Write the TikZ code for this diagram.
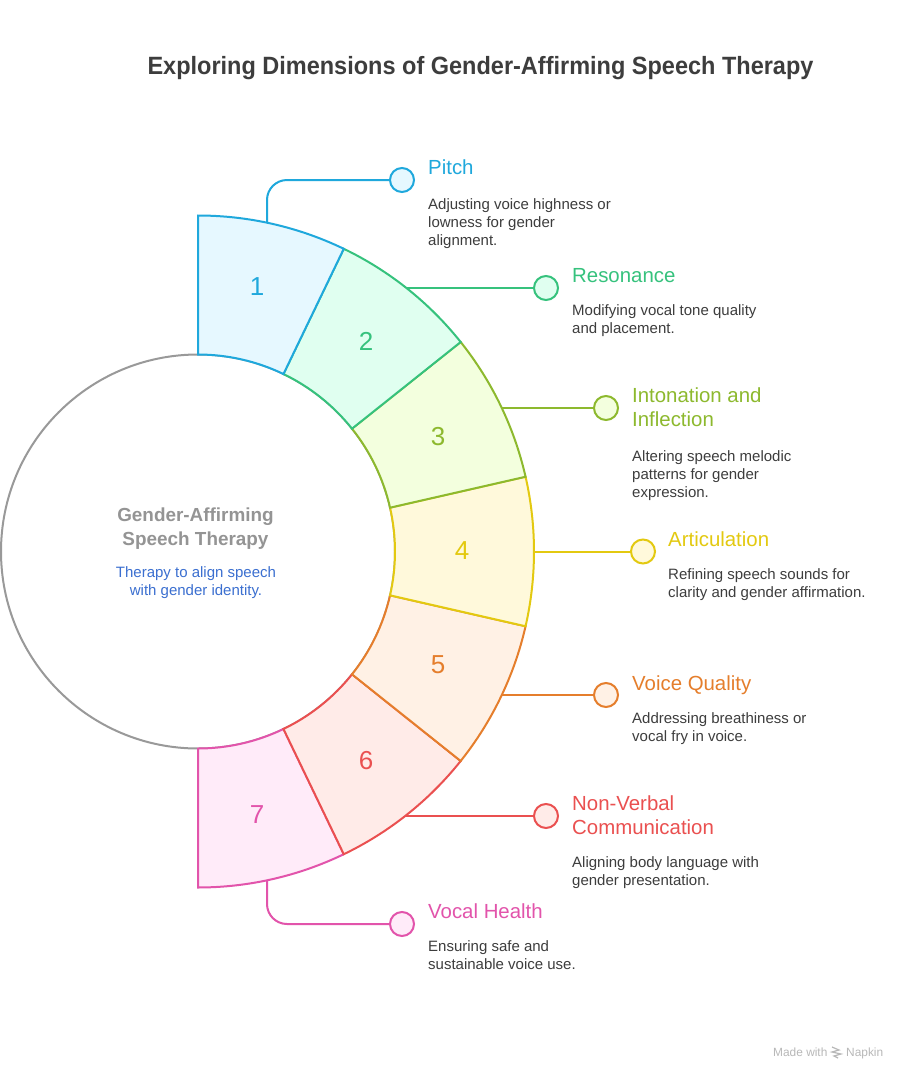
\documentclass[tikz,border=0pt]{standalone}
\usepackage{fontspec}
\setmainfont{Liberation Sans}
\newfontfamily\titlefont[FakeStretch=0.94]{Liberation Sans}
\definecolor{cA}{HTML}{1FA8DC}\definecolor{fA}{HTML}{E6F8FF}
\definecolor{cB}{HTML}{36C27D}\definecolor{fB}{HTML}{E0FFF0}
\definecolor{cC}{HTML}{8DB92E}\definecolor{fC}{HTML}{F3FFDE}
\definecolor{cD}{HTML}{E3C910}\definecolor{fD}{HTML}{FFF9DB}
\definecolor{cE}{HTML}{E57E2C}\definecolor{fE}{HTML}{FFF1E5}
\definecolor{cF}{HTML}{EA5050}\definecolor{fF}{HTML}{FFEBE8}
\definecolor{cG}{HTML}{E254AB}\definecolor{fG}{HTML}{FFEBF9}
\definecolor{txt}{HTML}{3D3D3D}
\tikzset{
  seg/.style={line width=2pt,line join=miter},
  conn/.style={line width=2pt},
  dot/.style={circle,minimum size=24pt,inner sep=0pt,line width=2pt},
  num/.style={font=\fontsize{26}{30}\selectfont,inner sep=0pt},
  head/.style={anchor=north west,inner sep=0pt,align=left,font=\fontsize{20.4}{24}\selectfont},
  body/.style={anchor=north west,inner sep=0pt,align=left,text=txt,font=\fontsize{15}{18}\selectfont},
}
\begin{document}
\begin{tikzpicture}[x=1pt,y=-1pt]
\useasboundingbox (0,0) rectangle (906,1080);
\fill[white] (0,0) rectangle (906,1080);
\coordinate (C) at (198,551.5);
\node[anchor=base,inner sep=0pt,text=txt] (title) at (480.5,74) {\titlefont\fontsize{25}{30}\selectfont\bfseries Exploring Dimensions of Gender-Affirming Speech Therapy};
% centre
\node[circle,draw=black!40,line width=2pt,fill=white,minimum size=394pt,inner sep=0pt] (hub) at (C) {};
\node[align=center,inner sep=0pt,text=black!42,font=\fontsize{18.9}{24}\selectfont\bfseries] (hubt) at (195.5,528.5) {Gender-Affirming\\Speech Therapy};
\node[align=center,inner sep=0pt,text={rgb,255:red,59;green,111;blue,208},font=\fontsize{15}{18}\selectfont] (hubd) at (196,582.5) {Therapy to align speech\\with gender identity.};
% segment connector ends
\coordinate (s1) at (267,222);
\coordinate (s2) at (406,288);
\coordinate (s3) at (502,408);
\coordinate (s4) at (534,551.5);
\coordinate (s5) at (502,695);
\coordinate (s6) at (406,816);
\coordinate (s7) at (267,881);
% outer dots
\node[dot,draw=cA,fill=fA] (d1) at (402,180) {};
\node[dot,draw=cB,fill=fB] (d2) at (546,288) {};
\node[dot,draw=cC,fill=fC] (d3) at (606,408) {};
\node[dot,draw=cD,fill=fD] (d4) at (643,551.5) {};
\node[dot,draw=cE,fill=fE] (d5) at (606,695) {};
\node[dot,draw=cF,fill=fF] (d6) at (546,816) {};
\node[dot,draw=cG,fill=fG] (d7) at (402,924) {};
\draw[conn,cA,rounded corners=20pt] (s1) |- (d1.west);
\draw[conn,cB] (s2) -- (d2.west);
\draw[conn,cC] (s3) -- (d3.west);
\draw[conn,cD] (s4) -- (d4.west);
\draw[conn,cE] (s5) -- (d5.west);
\draw[conn,cF] (s6) -- (d6.west);
\draw[conn,cG,rounded corners=20pt] (s7) |- (d7.west);
% segments
\foreach \i/\c/\f in {7/cG/fG,6/cF/fF,5/cE/fE,4/cD/fD,3/cC/fC,2/cB/fB,1/cA/fA}{
  \pgfmathsetmacro\a{90-(\i-1)*180/7}
  \pgfmathsetmacro\b{\a-180/7}
  \draw[seg,draw=\c,fill=\f] (C) ++(\a:336pt) arc[start angle=\a,end angle=\b,radius=336pt]
    -- ([shift={(\b:197pt)}]C) arc[start angle=\b,end angle=\a,radius=197pt] -- cycle;
}
% numbers
\node[num,text=cA] (n1) at (257,287) {1};
\node[num,text=cB] (n2) at (366,341) {2};
\node[num,text=cC] (n3) at (438,437) {3};
\node[num,text=cD] (n4) at (462,551) {4};
\node[num,text=cE] (n5) at (438,665) {5};
\node[num,text=cF] (n6) at (366,761) {6};
\node[num,text=cG] (n7) at (257,815) {7};
% labels
\node[head,text=cA] (h1) at (428,160) {Pitch};
\node[body] (b1) at (428,198) {Adjusting voice highness or\\lowness for gender\\alignment.};
\node[head,text=cB] (h2) at (572,268) {Resonance};
\node[body] (b2) at (572,304) {Modifying vocal tone quality\\and placement.};
\node[head,text=cC] (h3) at (632,388) {Intonation and\\Inflection};
\node[body] (b3) at (632,450) {Altering speech melodic\\patterns for gender\\expression.};
\node[head,text=cD] (h4) at (668,532) {Articulation};
\node[body] (b4) at (668,568) {Refining speech sounds for\\clarity and gender affirmation.};
\node[head,text=cE] (h5) at (632,676) {Voice Quality};
\node[body] (b5) at (632,712) {Addressing breathiness or\\vocal fry in voice.};
\node[head,text=cF] (h6) at (572,796) {Non-Verbal\\Communication};
\node[body] (b6) at (572,856) {Aligning body language with\\gender presentation.};
\node[head,text=cG] (h7) at (428,904) {Vocal Health};
\node[body] (b7) at (428,940) {Ensuring safe and\\sustainable voice use.};
% footer
\node[anchor=base west,inner sep=0pt,text=black!28,font=\fontsize{11.9}{13}\selectfont] (made) at (773,1056) {Made with};
\node[anchor=base west,inner sep=0pt,text=black!28,font=\fontsize{11.9}{13}\selectfont] (nap) at (846,1056) {Napkin};
\draw[black!28,line width=1.2pt] (832,1047) -- (839,1050) -- (832,1052) -- (841,1054) -- (834,1056) -- (838,1058);
\end{tikzpicture}
\end{document}
